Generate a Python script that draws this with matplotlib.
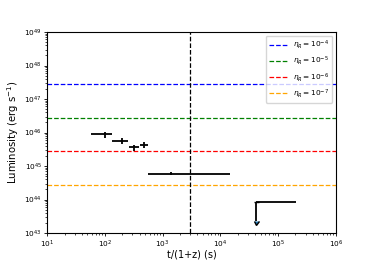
import numpy as np
import matplotlib.pyplot as plt

# detected points
t = [100, 195, 325, 475, 1400]
t_lo = [42, 60, 61, 70, 850]
t_hi = [35, 61, 70, 75, 13100]
lum = [8.9e45, 5.6e45, 3.6e45, 4.3e45, 5.9e44]
lum_err = [1.8e45, 1.1e45, 0.8e45, 0.9e45, 0.6e44]

# upper limit
t_ul = [42000]
t_ul_hi = [161000]
lum_ul = [8.6e43]
lum_ul_len = [6.3e43]

# eta_R lines
eta_labels = [r"$\eta_R = 10^{-4}$", r"$\eta_R = 10^{-5}$",
              r"$\eta_R = 10^{-6}$", r"$\eta_R = 10^{-7}$"]
eta_lum = [2.75e47, 2.75e46, 2.75e45, 2.75e44]
eta_colors = ["blue", "green", "red", "orange"]

t_vline = 2950

fig = plt.figure(figsize=(3.74, 2.67), dpi=100)
ax = fig.add_axes([0.126, 0.127, 0.772, 0.753])

for l, c, lab in zip(eta_lum, eta_colors, eta_labels):
    ax.axhline(l, color=c, linestyle="--", linewidth=0.9, label=lab)

ax.axvline(t_vline, color="black", linestyle="--", linewidth=0.9)

ax.errorbar(t, lum, xerr=[t_lo, t_hi], yerr=lum_err, fmt="none",
            ecolor="black", elinewidth=1.3)
# upper limit: horizontal extent plus downward arrow
ax.errorbar(t_ul, lum_ul, xerr=[[0], t_ul_hi], fmt="none",
            ecolor="black", elinewidth=1.3)
ax.errorbar(t_ul, lum_ul, yerr=lum_ul_len, uplims=True, fmt="none",
            ecolor="black", elinewidth=1.3, capsize=1.8)

ax.set_xscale("log")
ax.set_yscale("log")
ax.set_xlim(1e1, 1e6)
ax.set_ylim(1e43, 1e49)
ax.set_xlabel("t/(1+z) (s)", fontsize=7, labelpad=0)
ax.set_ylabel("Luminosity (erg s$^{-1}$)", fontsize=7.3, labelpad=2)
ax.tick_params(labelsize=5.3, width=0.6, length=2.5, pad=1.2)
ax.tick_params(which="minor", width=0.5, length=1.5)
for s in ax.spines.values():
    s.set_linewidth(0.8)

ax.legend(loc="upper right", fontsize=5.3, handlelength=2.5)

plt.savefig("out.png", dpi=100)
